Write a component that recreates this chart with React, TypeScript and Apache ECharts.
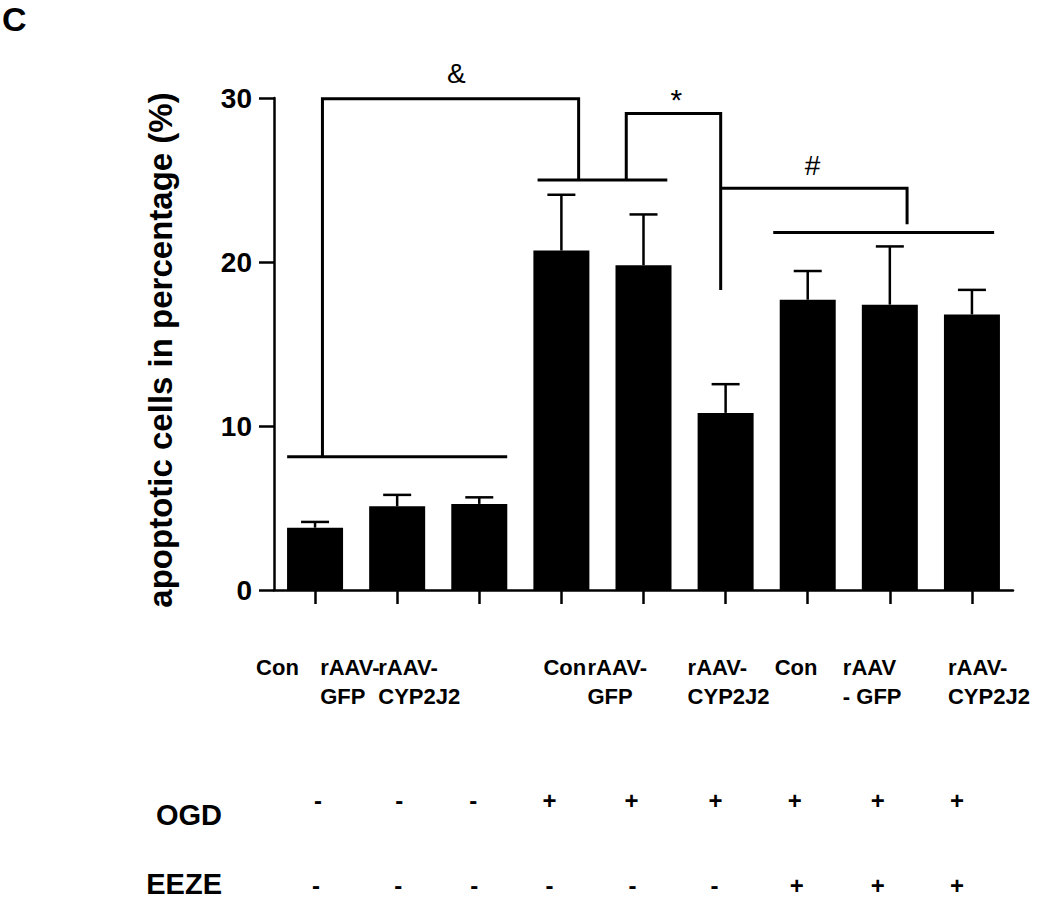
import React, { useEffect, useRef } from "react";
import * as echarts from "echarts";

// ---------- data ----------
const categories = [
  "Con",
  "rAAV-\nGFP",
  "rAAV-\nCYP2J2",
  "Con",
  "rAAV-\nGFP",
  "rAAV-\nCYP2J2",
  "Con",
  "rAAV\n- GFP",
  "rAAV-\nCYP2J2",
];
const meanValues = [3.8, 5.1, 5.25, 20.7, 19.8, 10.8, 17.7, 17.4, 16.8];
const errorValues = [0.35, 0.7, 0.4, 3.4, 3.1, 1.75, 1.75, 3.55, 1.5];
const ogdSigns = ["-", "-", "-", "+", "+", "+", "+", "+", "+"];
const eezeSigns = ["-", "-", "-", "-", "-", "-", "+", "+", "+"];
const yMin = 0;
const yMax = 30;
const yStep = 10;
const yAxisTitle = "apoptotic cells in percentage (%)";
const rowTitles = ["OGD", "EEZE"];
const panelLetter = "C";

// significance brackets: [categoryIndex, offset in bands, y value]
const brackets: number[][][] = [
  [[0, -0.34, 8.13], [2, 0.34, 8.13]],
  [[0, 0.09, 8.13], [0, 0.09, 29.95], [3, 0.21, 29.95], [3, 0.21, 25]],
  [[3, -0.29, 25], [4, 0.29, 25]],
  [[4, -0.21, 25], [4, -0.21, 29.05], [5, -0.06, 29.05], [5, -0.06, 18.3]],
  [[5, -0.06, 24.5], [7, 0.21, 24.5], [7, 0.21, 22.3]],
  [[6, -0.42, 21.8], [8, 0.27, 21.8]],
];
// significance symbols: text, categoryIndex, offset in bands, y value
const sigText = ["&", "*", "#"];
const sigCat = [2, 4, 6];
const sigOff = [-0.28, 0.4, 0.06];
const sigY = [31.5, 29.9, 25.9];

// ---------- styles ----------
const SANS = '"Liberation Sans", Arial, Helvetica, sans-serif';
// left edge of each category label relative to its tick (px)
const labelLeft = [-59, -77, -101, -18, -56, -38, -33, -47, -24];
const LABEL_BOX = 220;
const ogdShift = [3, 2, -6, -12, -12, -10, -13, -12, -15];
const eezeShift = [1, 1, -5, -12, -11, -11, -11, -12, -15];

const shiftPad = (d: number) => (d < 0 ? [0, -2 * d, 0, 0] : [0, 0, 0, 2 * d]);

const catLabelBase = {
  fontSize: 22,
  fontWeight: "bold",
  fontFamily: SANS,
  color: "#000",
  lineHeight: 29,
};
const signBase = {
  fontSize: 24,
  fontWeight: "bold",
  fontFamily: SANS,
  color: "#000",
  lineHeight: 26,
};

function catRich() {
  const r: any = {};
  labelLeft.forEach((s, i) => {
    r["c" + i] = {
      ...catLabelBase,
      width: LABEL_BOX,
      align: "left",
      padding: [0, 0, 0, Math.max(0, 2 * (s + LABEL_BOX / 2))],
    };
  });
  return r;
}

function signRich(prefix: string, shifts: number[]) {
  const r: any = {};
  shifts.forEach((d, i) => {
    r[prefix + i] = { ...signBase, padding: shiftPad(d) };
  });
  return r;
}

function buildOption(): any {
  const lineStyle = { color: "#000", width: 2.5 };
  return {
    animation: false,
    backgroundColor: "#fff",
    grid: {
      left: 274,
      right: 37,
      top: 98,
      bottom: 310,
      containLabel: false,
      outerBoundsMode: "none",
    },
    xAxis: [
      {
        type: "category",
        data: categories,
        position: "bottom",
        axisLine: { show: true, lineStyle },
        axisTick: { show: true, alignWithLabel: true, length: 14, lineStyle },
        axisLabel: {
          interval: 0,
          margin: 63,
          hideOverlap: false,
          formatter: (v: string, i: number) =>
            v.split("\n").map((l) => `{c${i}|${l}}`).join("\n"),
          rich: catRich(),
        },
        splitLine: { show: false },
      },
      {
        type: "category",
        data: categories,
        position: "bottom",
        axisLine: { show: false },
        axisTick: { show: false },
        axisLabel: {
          interval: 0,
          margin: 197,
          formatter: (_v: string, i: number) => `{o${i}|${ogdSigns[i]}}`,
          rich: signRich("o", ogdShift),
        },
        splitLine: { show: false },
      },
      {
        type: "category",
        data: categories,
        position: "bottom",
        axisLine: { show: false },
        axisTick: { show: false },
        axisLabel: {
          interval: 0,
          margin: 282,
          formatter: (_v: string, i: number) => `{e${i}|${eezeSigns[i]}}`,
          rich: signRich("e", eezeShift),
        },
        splitLine: { show: false },
      },
    ],
    yAxis: {
      type: "value",
      min: yMin,
      max: yMax,
      interval: yStep,
      axisLine: { show: true, lineStyle },
      axisTick: { show: true, length: 15, lineStyle },
      splitLine: { show: false },
      axisLabel: {
        color: "#000",
        fontSize: 28,
        fontWeight: "bold",
        fontFamily: SANS,
        margin: 22,
      },
      name: yAxisTitle,
      nameLocation: "middle",
      nameGap: 97,
      nameTextStyle: {
        color: "#000",
        fontSize: 33,
        fontWeight: "bold",
        fontFamily: SANS,
        padding: [0, 12, 0, 0],
      },
    },
    graphic: [
      {
        type: "text",
        x: 2,
        y: 19,
        style: {
          text: panelLetter,
          fill: "#000",
          font: `bold 34px ${SANS}`,
          align: "left",
          verticalAlign: "middle",
        },
      },
      {
        type: "text",
        x: 222,
        y: 815,
        style: {
          text: rowTitles[0],
          fill: "#000",
          font: `bold 29px ${SANS}`,
          align: "right",
          verticalAlign: "middle",
        },
      },
      {
        type: "text",
        x: 222,
        y: 884,
        style: {
          text: rowTitles[1],
          fill: "#000",
          font: `bold 29px ${SANS}`,
          align: "right",
          verticalAlign: "middle",
        },
      },
    ],
    series: [
      {
        type: "bar",
        data: meanValues,
        barWidth: 56,
        itemStyle: { color: "#000" },
        xAxisIndex: 0,
        yAxisIndex: 0,
      },
      {
        type: "custom",
        xAxisIndex: 0,
        yAxisIndex: 0,
        silent: true,
        z: 3,
        data: meanValues.map((v, i) => [i, v, v + errorValues[i]]),
        encode: { x: 0, y: [1, 2] },
        renderItem: (_p: any, api: any) => {
          const i = api.value(0);
          const base = api.coord([i, api.value(1)]);
          const top = api.coord([i, api.value(2)]);
          const half = 14;
          const st = { stroke: "#000", lineWidth: 2.5 };
          return {
            type: "group",
            children: [
              { type: "line", shape: { x1: base[0], y1: base[1], x2: top[0], y2: top[1] }, style: st },
              { type: "line", shape: { x1: top[0] - half, y1: top[1], x2: top[0] + half, y2: top[1] }, style: st },
            ],
          };
        },
      },
      {
        type: "custom",
        xAxisIndex: 0,
        yAxisIndex: 0,
        silent: true,
        z: 4,
        clip: false,
        data: brackets.map((b) => [b[0][0], b[0][2]]),
        encode: { x: 0, y: 1 },
        renderItem: (p: any, api: any) => {
          const b = brackets[p.dataIndex];
          const bw = api.size([1, 0])[0];
          const pts = b.map(([c, off, y]) => {
            const pt = api.coord([c, y]);
            return [pt[0] + off * bw, pt[1]];
          });
          return {
            type: "polyline",
            shape: { points: pts },
            style: { stroke: "#000", lineWidth: 3, fill: "none" },
          };
        },
      },
      {
        type: "custom",
        xAxisIndex: 0,
        yAxisIndex: 0,
        silent: true,
        z: 4,
        clip: false,
        data: sigText.map((_t, i) => [sigCat[i], sigY[i]]),
        encode: { x: 0, y: 1 },
        renderItem: (p: any, api: any) => {
          const k = p.dataIndex;
          const bw = api.size([1, 0])[0];
          const pt = api.coord([sigCat[k], sigY[k]]);
          return {
            type: "text",
            x: pt[0] + sigOff[k] * bw,
            y: pt[1],
            style: {
              text: sigText[k],
              fill: "#000",
              font: `${k === 1 ? 30 : 28}px ${SANS}`,
              align: "center",
              verticalAlign: "middle",
            },
          };
        },
      },
    ],
  };
}

export default function App() {
  const ref = useRef<HTMLDivElement>(null);
  useEffect(() => {
    if (!ref.current) return;
    const chart = echarts.init(ref.current, null, { renderer: "svg" });
    chart.setOption(buildOption());
    return () => chart.dispose();
  }, []);
  return (
    <div
      ref={ref}
      style={{ position: "absolute", left: 0, top: 0, width: 1050, height: 900, background: "#fff" }}
    />
  );
}
